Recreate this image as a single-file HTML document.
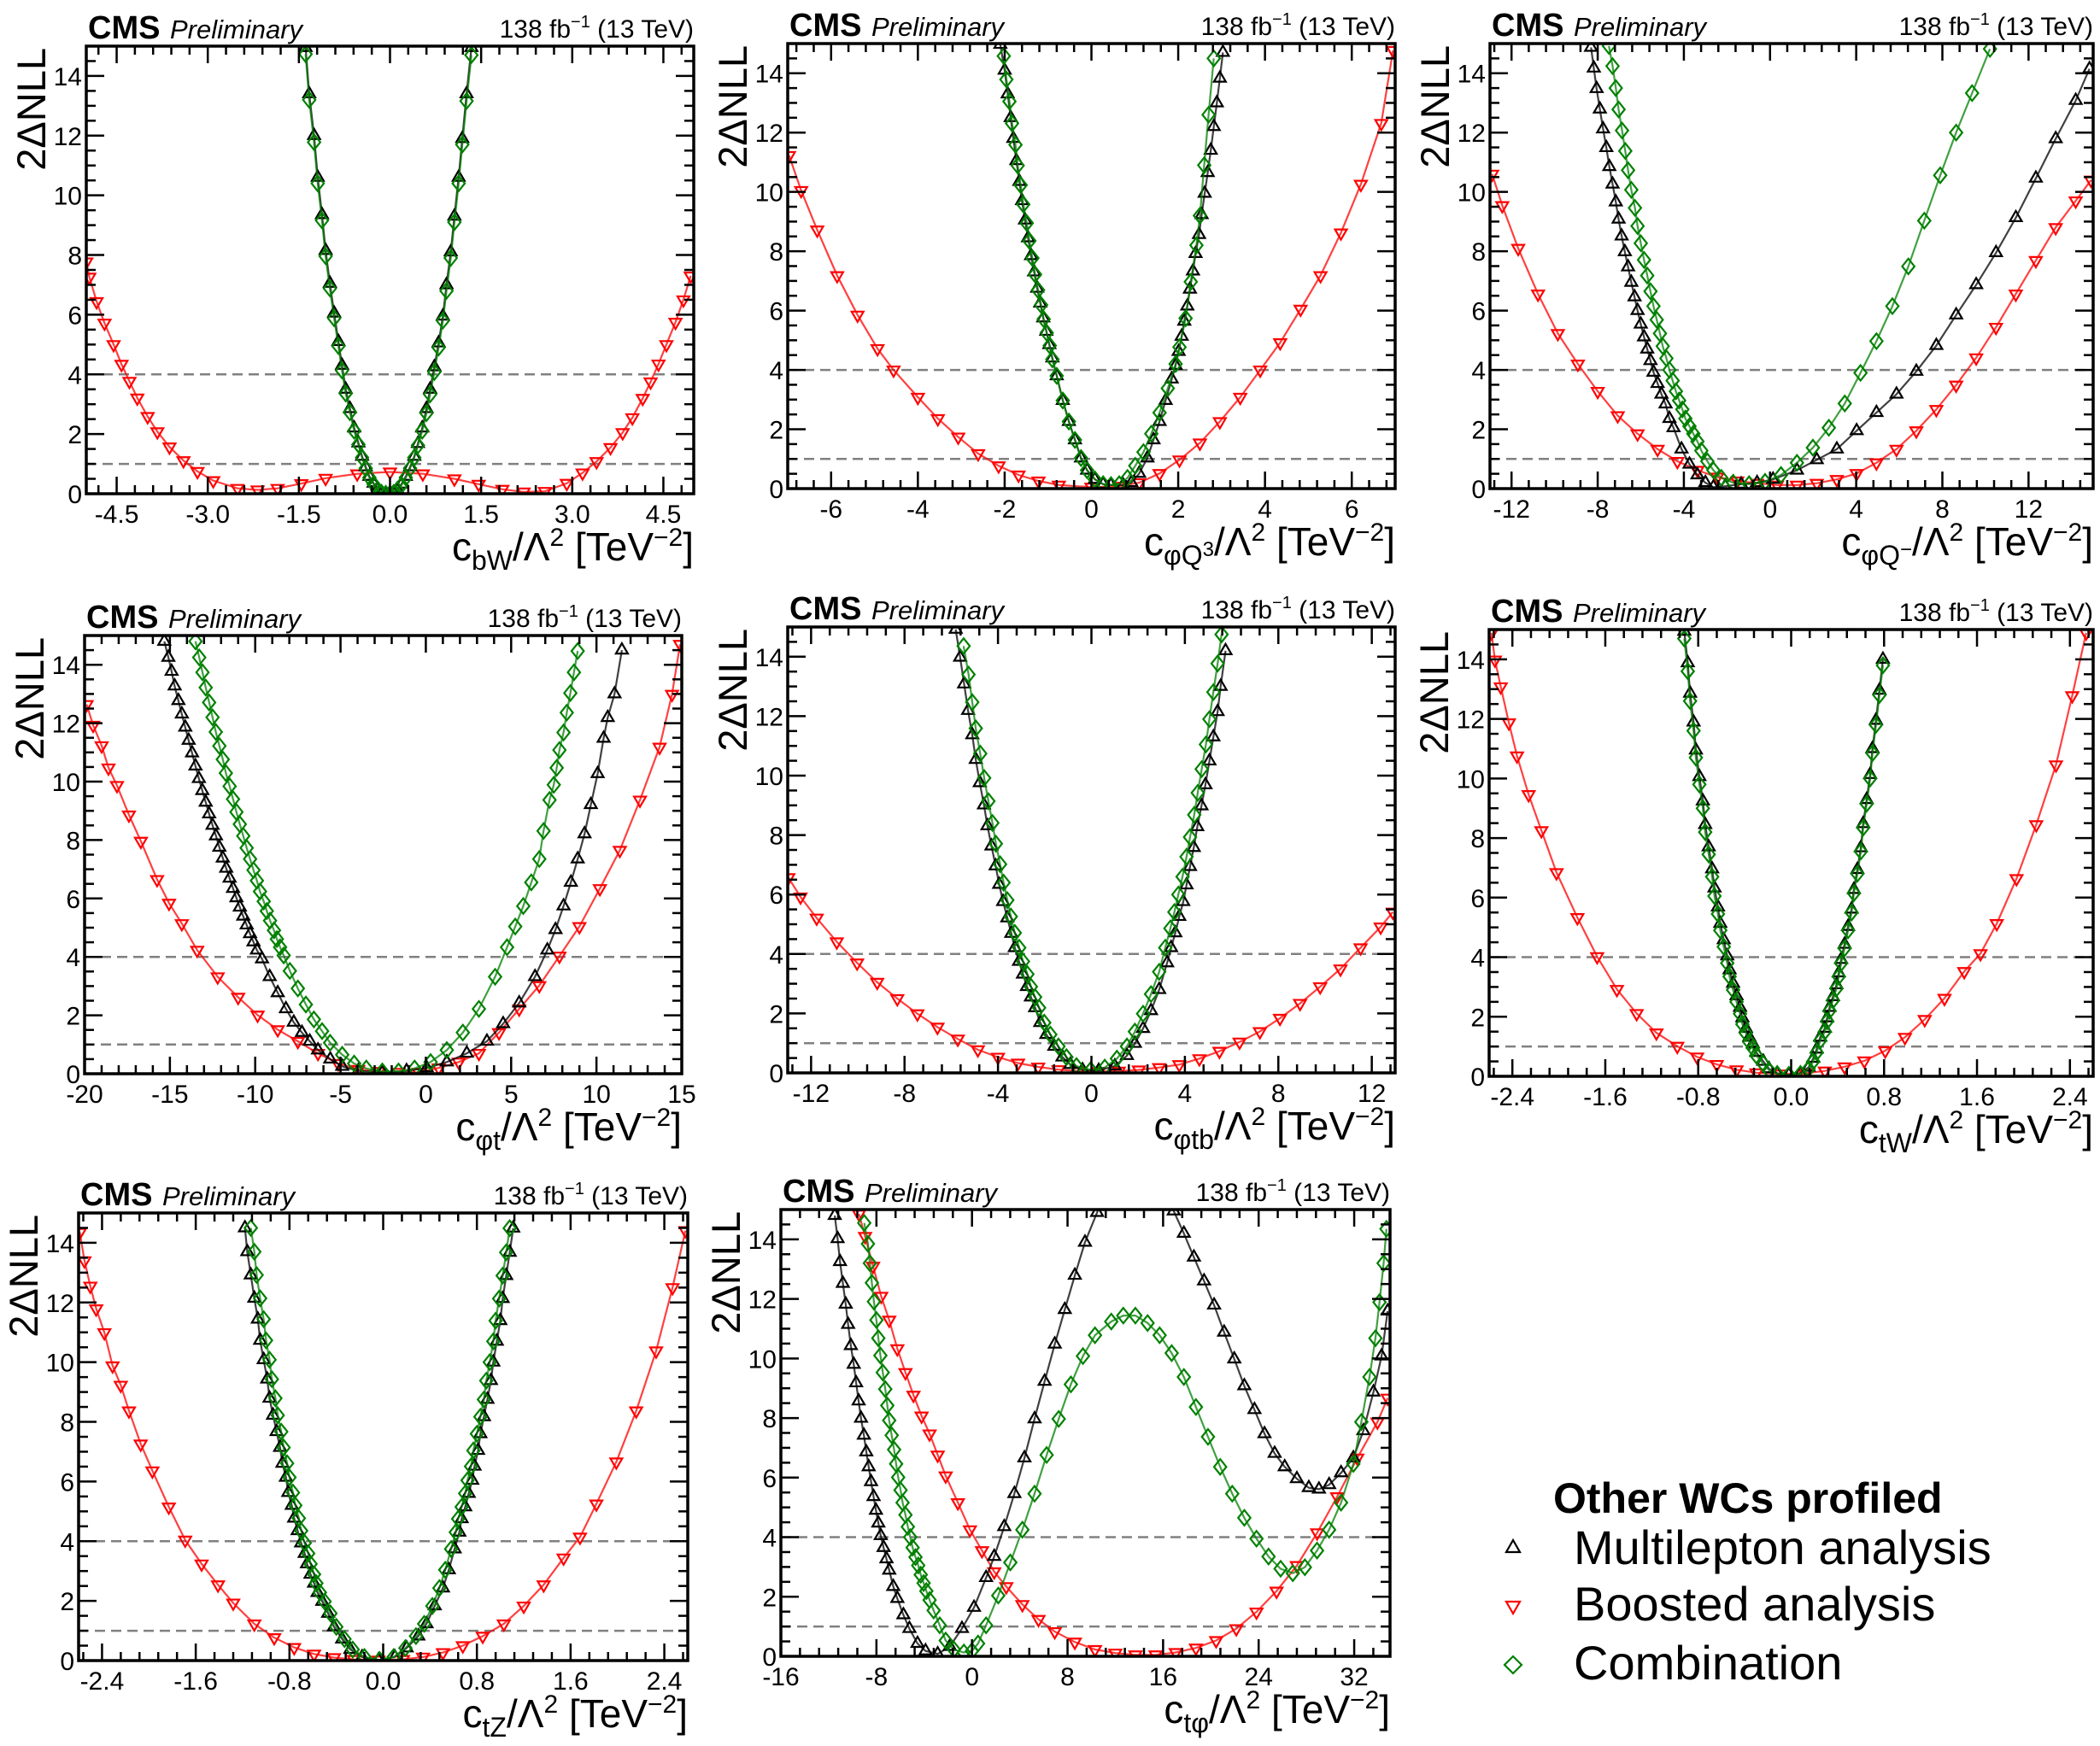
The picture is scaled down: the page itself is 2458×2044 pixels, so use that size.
<!DOCTYPE html>
<html><head><meta charset="utf-8"><title>CMS 2ΔNLL scans</title>
<style>
html,body{margin:0;padding:0;background:#fff;}
svg{display:block;font-family:"Liberation Sans",Arial,sans-serif;}
</style></head>
<body>
<svg id="chart" xmlns="http://www.w3.org/2000/svg" width="2458" height="2044" viewBox="0 0 2458 2044">
<rect x="0" y="0" width="2458" height="2044" fill="#fff"/>
<g>
<text x="1818" y="1771" font-size="50" font-weight="bold">Other WCs profiled</text>
<g>
<polygon points="1771,1803 1763,1817 1779,1817" fill="none" stroke="#000" stroke-width="2.2"/>
<text x="1842" y="1831" font-size="56">Multilepton analysis</text></g>
<g>
<polygon points="1771,1889 1763,1875 1779,1875" fill="none" stroke="#ff0000" stroke-width="2.2"/>
<text x="1842" y="1897" font-size="56">Boosted analysis</text></g>
<g>
<polygon points="1771,1939 1781,1949 1771,1959 1761,1949" fill="none" stroke="#008000" stroke-width="2.2"/>
<text x="1842" y="1966" font-size="56">Combination</text></g>
</g>
</svg>
<script>
// ---------- data ----------
const yTickVals=[0,2,4,6,8,10,12,14];
const yTickLabels=["0","2","4","6","8","10","12","14"];
const refLevels=[1,4];

// Panel 1: cbW
const p1_tickvals=[-4.5,-3,-1.5,0,1.5,3,4.5];
const p1_ticklabels=["-4.5","-3.0","-1.5","0.0","1.5","3.0","4.5"];
const p1_boost_x=[-5.0,-4.95,-4.83,-4.7,-4.55,-4.42,-4.29,-4.16,-3.99,-3.83,-3.63,-3.4,-3.17,-2.91,-2.51,-2.18,-1.85,-1.46,-1.06,-0.54,0,0.54,1.06,1.46,1.85,2.2,2.55,2.91,3.17,3.4,3.63,3.83,3.99,4.16,4.29,4.42,4.55,4.7,4.83,4.95];
const p1_boost_y=[7.77,7.26,6.44,5.72,5.0,4.34,3.77,3.21,2.59,2.08,1.57,1.11,0.75,0.44,0.18,0.13,0.18,0.34,0.52,0.67,0.73,0.67,0.5,0.32,0.15,0.06,0.08,0.35,0.7,1.08,1.55,2.05,2.55,3.2,3.75,4.35,5.0,5.75,6.5,7.3];
const p1_multi_x=[-1.39,-1.33,-1.25,-1.19,-1.12,-1.06,-0.99,-0.92,-0.85,-0.79,-0.73,-0.66,-0.59,-0.52,-0.46,-0.40,-0.34,-0.27,-0.21,-0.14,-0.07,0.0,0.06,0.12,0.19,0.26,0.33,0.40,0.46,0.53,0.60,0.66,0.73,0.80,0.87,0.93,1.0,1.06,1.13,1.19,1.26,1.34];
const p1_multi_y=[14.95,13.4,12.0,10.6,9.35,8.15,7.05,6.05,5.1,4.3,3.5,2.85,2.2,1.7,1.25,0.9,0.58,0.35,0.15,0.04,0.0,0.0,0.04,0.15,0.32,0.58,0.9,1.25,1.68,2.2,2.85,3.5,4.25,5.05,5.95,7.0,8.1,9.3,10.6,11.9,13.4,14.95];
const p1_comb_x=[-1.39,-1.33,-1.25,-1.19,-1.12,-1.06,-0.99,-0.92,-0.85,-0.79,-0.73,-0.66,-0.59,-0.52,-0.46,-0.40,-0.34,-0.27,-0.21,-0.14,-0.07,0.0,0.06,0.12,0.19,0.26,0.33,0.40,0.46,0.53,0.60,0.66,0.73,0.80,0.87,0.93,1.0,1.06,1.13,1.19,1.26,1.34];
const p1_comb_y=[14.73,13.2,11.78,10.4,9.16,7.96,6.88,5.88,4.95,4.13,3.36,2.73,2.11,1.65,1.21,0.85,0.54,0.32,0.13,0.03,0.0,0.0,0.03,0.13,0.29,0.54,0.85,1.21,1.62,2.11,2.7,3.33,4.08,4.9,5.8,6.8,7.9,9.1,10.4,11.7,13.16,14.7];

// Panel 2: cphiQ3
const p2_tickvals=[-6,-4,-2,0,2,4,6];
const p2_ticklabels=["-6","-4","-2","0","2","4","6"];
const p2_boost_x=[-6.97,-6.69,-6.32,-5.86,-5.39,-4.93,-4.56,-4.0,-3.54,-3.07,-2.61,-2.14,-1.68,-1.22,-0.75,0,0.64,1.1,1.57,2.03,2.5,2.96,3.43,3.89,4.35,4.82,5.28,5.75,6.21,6.68,6.95];
const p2_boost_y=[11.23,10.05,8.72,7.18,5.85,4.72,4.0,3.08,2.36,1.74,1.18,0.77,0.46,0.26,0.12,0.05,0.08,0.2,0.51,0.97,1.54,2.26,3.08,4.0,4.92,6.05,7.18,8.62,10.26,12.31,14.77];
const p2_multi_x=[-2.1,-2.0,-1.93,-1.86,-1.8,-1.73,-1.66,-1.6,-1.53,-1.46,-1.39,-1.32,-1.25,-1.18,-1.11,-1.04,-0.97,-0.9,-0.8,-0.66,-0.52,-0.38,-0.24,-0.1,0.08,0.27,0.45,0.73,0.92,1.1,1.29,1.43,1.57,1.71,1.85,1.94,2.01,2.08,2.14,2.21,2.27,2.34,2.4,2.48,2.54,2.61,2.68,2.75,2.82,2.89,2.96,3.03];
const p2_multi_y=[14.97,14.1,13.3,12.5,11.8,11.05,10.35,9.7,9.05,8.45,7.85,7.3,6.75,6.25,5.75,5.3,4.85,4.4,3.8,2.97,2.26,1.64,1.03,0.62,0.31,0.15,0.12,0.12,0.2,0.51,1.03,1.64,2.26,2.97,3.69,4.15,4.62,5.13,5.64,6.15,6.72,7.33,7.92,8.56,9.23,9.95,10.65,11.4,12.2,13.0,13.83,14.7];
const p2_comb_x=[-2.02,-1.96,-1.89,-1.83,-1.75,-1.7,-1.63,-1.57,-1.49,-1.43,-1.36,-1.3,-1.23,-1.16,-1.1,-1.03,-0.96,-0.9,-0.8,-0.66,-0.52,-0.38,-0.24,-0.1,0.08,0.27,0.45,0.64,0.83,1.01,1.2,1.38,1.57,1.76,1.94,2.03,2.17,2.29,2.42,2.5,2.6,2.7,2.82];
const p2_comb_y=[14.58,13.79,13.05,12.31,11.59,10.89,10.23,9.58,8.95,8.35,7.77,7.22,6.69,6.19,5.71,5.25,4.82,4.36,3.8,2.97,2.26,1.64,1.03,0.62,0.31,0.15,0.12,0.15,0.36,0.77,1.23,1.85,2.56,3.38,4.2,4.77,5.74,6.97,8.2,9.2,10.9,12.6,14.5];

// Panel 3: cphiQ-
const p3_tickvals=[-12,-8,-4,0,4,8,12];
const p3_ticklabels=["-12","-8","-4","0","4","8","12"];
const p3_boost_x=[-12.9,-12.43,-11.69,-10.77,-9.85,-8.92,-8.0,-7.07,-6.15,-5.22,-4.3,-3.37,-2.45,-1.52,-0.6,0.32,1.25,2.17,3.1,4.02,4.94,5.87,6.79,7.72,8.64,9.57,10.49,11.41,12.34,13.26,14.19,14.9];
const p3_boost_y=[10.6,9.54,8.1,6.56,5.23,4.2,3.28,2.46,1.85,1.33,0.92,0.62,0.39,0.26,0.18,0.12,0.12,0.18,0.31,0.51,0.87,1.33,1.95,2.67,3.49,4.41,5.44,6.56,7.69,8.8,9.7,10.4];
const p3_multi_x=[-8.31,-8.18,-8.05,-7.9,-7.75,-7.6,-7.46,-7.31,-7.16,-7.03,-6.89,-6.74,-6.59,-6.44,-6.29,-6.15,-6.0,-5.85,-5.7,-5.55,-5.41,-5.22,-5.04,-4.85,-4.67,-4.48,-4.11,-3.74,-3.37,-3.0,-2.63,-2.08,-1.34,-0.6,0.14,1.25,2.17,3.1,4.02,4.94,5.87,6.79,7.72,8.64,9.57,10.49,11.41,12.34,13.26,14.19,14.83];
const p3_multi_y=[14.87,14.17,13.48,12.79,12.12,11.49,10.85,10.26,9.66,9.08,8.51,7.98,7.47,6.95,6.46,6.0,5.54,5.11,4.7,4.31,3.92,3.54,3.18,2.85,2.36,2.05,1.33,0.82,0.46,0.2,0.05,0.08,0.15,0.2,0.31,0.62,0.97,1.33,1.95,2.56,3.18,3.95,4.82,5.85,6.87,7.95,9.13,10.46,11.79,13.08,14.15];
const p3_comb_x=[-7.48,-7.31,-7.16,-7.03,-6.87,-6.72,-6.59,-6.44,-6.27,-6.15,-6.0,-5.85,-5.7,-5.55,-5.41,-5.26,-5.11,-4.98,-4.81,-4.67,-4.52,-4.37,-4.22,-4.07,-3.93,-3.74,-3.56,-3.37,-3.19,-2.91,-2.63,-2.26,-1.71,-0.97,-0.23,0.51,1.25,1.99,2.73,3.47,4.2,4.94,5.68,6.42,7.16,7.9,8.64,9.38,10.21];
const p3_comb_y=[14.92,14.24,13.5,12.78,12.07,11.38,10.73,10.07,9.46,8.85,8.27,7.71,7.18,6.65,6.15,5.69,5.23,4.8,4.39,4.0,3.64,3.28,2.97,2.67,2.36,2.1,1.85,1.59,1.28,0.92,0.62,0.36,0.2,0.15,0.23,0.46,0.87,1.38,2.05,2.87,3.9,4.97,6.15,7.49,9.03,10.56,12.0,13.33,14.82];

// Panel 4: cphit
const p4_tickvals=[-20,-15,-10,-5,0,5,10,15];
const p4_ticklabels=["-20","-15","-10","-5","0","5","10","15"];
const p4_boost_x=[-19.88,-19.5,-19.0,-18.6,-18.1,-17.4,-16.7,-15.75,-15.05,-14.3,-13.4,-12.2,-11.0,-9.86,-8.68,-7.5,-6.32,-5.14,-3.96,-2.78,-1.6,-0.42,0.75,1.93,3.11,4.29,5.47,6.65,7.83,9.0,10.2,11.37,12.55,13.7,14.43,14.9];
const p4_boost_y=[12.64,11.93,11.23,10.47,9.87,8.86,7.96,6.65,5.84,5.14,4.23,3.32,2.62,2.01,1.51,1.11,0.7,0.35,0.15,0.08,0.05,0.05,0.2,0.4,0.7,1.41,2.22,3.02,4.03,5.04,6.34,7.65,9.37,11.18,12.99,14.7];
const p4_multi_x=[-15.33,-15.09,-14.9,-14.72,-14.5,-14.3,-14.1,-13.9,-13.7,-13.5,-13.3,-13.1,-12.9,-12.7,-12.5,-12.3,-12.1,-11.9,-11.7,-11.5,-11.3,-11.1,-10.9,-10.7,-10.5,-10.3,-10.1,-9.9,-9.6,-9.15,-8.68,-8.2,-7.74,-7.26,-6.8,-6.32,-5.6,-4.9,-3.96,-2.55,-1.13,0.05,1.23,2.4,3.58,4.53,5.47,6.4,7.12,7.6,8.07,8.5,8.9,9.3,9.67,10.07,10.42,10.66,11.06,11.49];
const p4_multi_y=[14.8,14.25,13.77,13.27,12.77,12.31,11.86,11.41,10.98,10.53,10.1,9.69,9.29,8.89,8.5,8.14,7.75,7.38,7.03,6.69,6.34,6.02,5.7,5.39,5.09,4.79,4.51,4.23,3.93,3.32,2.77,2.22,1.76,1.41,1.11,0.81,0.5,0.25,0.1,0.05,0.1,0.2,0.4,0.7,1.11,1.71,2.42,3.32,4.23,4.93,5.74,6.55,7.35,8.21,9.21,10.27,11.48,12.19,13.0,14.5];
const p4_comb_x=[-13.5,-13.28,-13.09,-12.9,-12.7,-12.5,-12.31,-12.1,-11.9,-11.72,-11.5,-11.3,-11.1,-10.9,-10.7,-10.5,-10.3,-10.1,-9.9,-9.72,-9.5,-9.32,-9.13,-8.9,-8.73,-8.54,-8.33,-7.97,-7.5,-7.03,-6.56,-6.08,-5.61,-4.9,-4.2,-3.49,-2.55,-1.6,-0.66,0.28,1.23,2.17,3.11,4.06,4.76,5.24,5.71,6.18,6.65,6.9,7.25,7.5,7.67,7.83,8.07,8.26,8.47,8.68,8.9];
const p4_comb_y=[14.8,14.25,13.74,13.22,12.71,12.2,11.7,11.22,10.76,10.29,9.84,9.4,8.96,8.54,8.14,7.73,7.35,6.97,6.61,6.24,5.9,5.57,5.24,4.91,4.61,4.33,4.05,3.52,2.92,2.37,1.86,1.46,1.06,0.65,0.35,0.18,0.08,0.08,0.18,0.4,0.81,1.41,2.22,3.32,4.33,5.04,5.74,6.55,7.35,8.31,9.37,9.89,10.47,11.08,11.68,12.36,13.03,13.74,14.47];

// Panel 5: cphitb
const p5_tickvals=[-12,-8,-4,0,4,8,12];
const p5_ticklabels=["-12","-8","-4","0","4","8","12"];
const p5_boost_x=[-12.97,-12.45,-11.76,-10.9,-10.03,-9.17,-8.31,-7.45,-6.59,-5.72,-4.86,-4.0,-3.14,-2.28,-1.41,-0.55,0.31,1.17,2.03,2.9,3.76,4.62,5.48,6.34,7.21,8.07,8.93,9.79,10.66,11.52,12.38,12.9];
const p5_boost_y=[6.57,5.92,5.21,4.41,3.7,3.05,2.5,1.99,1.54,1.14,0.78,0.53,0.33,0.2,0.11,0.06,0.05,0.06,0.1,0.18,0.28,0.48,0.73,1.04,1.39,1.84,2.34,2.9,3.5,4.21,4.91,5.41];
const p5_multi_x=[-5.81,-5.62,-5.45,-5.28,-5.1,-4.95,-4.78,-4.6,-4.45,-4.28,-4.1,-3.95,-3.78,-3.6,-3.43,-3.28,-3.1,-2.93,-2.76,-2.59,-2.41,-2.19,-1.93,-1.59,-1.24,-0.9,-0.38,0.31,1.0,1.52,1.86,2.21,2.55,2.9,3.24,3.41,3.59,3.76,3.93,4.07,4.22,4.38,4.53,4.71,4.88,5.05,5.22,5.4,5.53,5.74];
const p5_multi_y=[14.92,13.98,13.08,12.19,11.37,10.54,9.76,9.01,8.31,7.63,6.96,6.34,5.76,5.21,4.69,4.21,3.75,3.32,2.9,2.55,2.19,1.69,1.29,0.89,0.53,0.28,0.1,0.08,0.23,0.58,0.99,1.49,2.09,2.8,3.7,4.21,4.71,5.26,5.76,6.32,6.94,7.58,8.28,8.98,9.69,10.49,11.3,12.15,13.0,14.2];
const p5_comb_x=[-5.47,-5.26,-5.1,-4.95,-4.76,-4.59,-4.41,-4.24,-4.09,-3.91,-3.76,-3.6,-3.45,-3.28,-3.09,-2.93,-2.74,-2.59,-2.41,-2.24,-2.02,-1.76,-1.41,-1.07,-0.64,-0.03,0.57,1.09,1.52,1.86,2.21,2.55,2.9,3.16,3.38,3.55,3.72,3.9,4.07,4.22,4.4,4.55,4.72,4.9,5.05,5.22,5.4,5.57];
const p5_comb_y=[14.36,13.4,12.47,11.59,10.74,9.92,9.14,8.41,7.71,7.02,6.4,5.81,5.26,4.71,4.21,3.75,3.32,2.9,2.55,2.19,1.69,1.29,0.89,0.53,0.23,0.1,0.18,0.48,0.89,1.39,1.99,2.65,3.4,4.21,4.86,5.41,6.0,6.6,7.27,7.93,8.68,9.42,10.22,11.05,11.9,12.81,13.77,14.75];

// Panel 6: ctW
const p6_tickvals=[-2.4,-1.6,-0.8,0,0.8,1.6,2.4];
const p6_ticklabels=["-2.4","-1.6","-0.8","0.0","0.8","1.6","2.4"];
const p6_boost_x=[-2.58,-2.55,-2.5,-2.43,-2.36,-2.26,-2.15,-2.02,-1.84,-1.67,-1.5,-1.33,-1.16,-0.98,-0.81,-0.64,-0.47,-0.3,-0.09,0.12,0.29,0.46,0.63,0.81,0.98,1.15,1.32,1.49,1.63,1.77,1.94,2.11,2.28,2.42,2.54];
const p6_boost_y=[14.89,13.98,13.08,11.87,10.76,9.46,8.25,6.84,5.33,4.02,2.92,2.11,1.46,1.01,0.65,0.4,0.22,0.12,0.08,0.1,0.18,0.32,0.52,0.86,1.31,1.91,2.62,3.52,4.12,5.13,6.64,8.45,10.46,12.78,14.89];
const p6_multi_x=[-0.92,-0.89,-0.87,-0.84,-0.82,-0.79,-0.76,-0.74,-0.71,-0.68,-0.66,-0.63,-0.61,-0.58,-0.55,-0.53,-0.5,-0.47,-0.44,-0.42,-0.39,-0.36,-0.33,-0.3,-0.24,-0.19,-0.12,-0.02,0.08,0.15,0.19,0.22,0.25,0.29,0.31,0.33,0.36,0.39,0.41,0.43,0.46,0.49,0.52,0.54,0.57,0.6,0.62,0.65,0.68,0.7,0.73,0.76,0.79];
const p6_multi_y=[14.94,13.88,12.86,11.89,10.95,10.06,9.24,8.45,7.7,6.96,6.32,5.68,5.13,4.58,4.04,3.57,3.12,2.7,2.31,1.96,1.61,1.31,1.09,0.8,0.5,0.25,0.1,0.05,0.1,0.3,0.6,0.91,1.31,1.61,1.96,2.31,2.67,3.07,3.47,3.92,4.43,5.03,5.61,6.27,6.94,7.67,8.48,9.29,10.13,11.0,11.95,12.96,14.0];
const p6_comb_x=[-0.92,-0.89,-0.87,-0.84,-0.82,-0.79,-0.76,-0.74,-0.71,-0.68,-0.66,-0.63,-0.61,-0.58,-0.55,-0.53,-0.5,-0.47,-0.44,-0.42,-0.39,-0.36,-0.33,-0.3,-0.24,-0.19,-0.12,-0.02,0.08,0.15,0.19,0.22,0.25,0.29,0.31,0.33,0.36,0.39,0.41,0.43,0.46,0.49,0.52,0.54,0.57,0.6,0.62,0.65,0.68,0.7,0.73,0.76,0.79];
const p6_comb_y=[14.7,13.6,12.6,11.6,10.7,9.8,9.0,8.2,7.45,6.7,6.05,5.45,4.9,4.35,3.8,3.35,2.9,2.5,2.1,1.75,1.45,1.15,0.95,0.7,0.42,0.2,0.08,0.05,0.08,0.25,0.5,0.8,1.2,1.5,1.85,2.2,2.55,2.95,3.35,3.8,4.3,4.9,5.5,6.15,6.8,7.55,8.35,9.15,10.0,10.85,11.8,12.8,13.8];

// Panel 7: ctZ
const p7_tickvals=[-2.4,-1.6,-0.8,0,0.8,1.6,2.4];
const p7_ticklabels=["-2.4","-1.6","-0.8","0.0","0.8","1.6","2.4"];
const p7_boost_x=[-2.59,-2.55,-2.5,-2.45,-2.38,-2.31,-2.24,-2.17,-2.07,-1.97,-1.83,-1.69,-1.55,-1.41,-1.28,-1.1,-0.93,-0.76,-0.59,-0.42,-0.25,-0.04,0.17,0.34,0.51,0.68,0.85,1.03,1.2,1.37,1.54,1.68,1.82,1.99,2.16,2.33,2.47,2.58];
const p7_boost_y=[14.35,13.4,12.55,11.79,10.99,9.88,9.23,8.37,7.26,6.36,5.15,4.04,3.24,2.54,1.93,1.23,0.77,0.44,0.22,0.1,0.04,0.02,0.04,0.12,0.27,0.5,0.82,1.23,1.83,2.54,3.44,4.14,5.25,6.66,8.37,10.38,12.5,14.41];
const p7_multi_x=[-1.18,-1.16,-1.13,-1.1,-1.07,-1.05,-1.02,-0.99,-0.97,-0.94,-0.91,-0.88,-0.86,-0.83,-0.81,-0.78,-0.76,-0.73,-0.7,-0.67,-0.65,-0.62,-0.59,-0.56,-0.52,-0.47,-0.42,-0.35,-0.28,-0.18,-0.04,0.1,0.2,0.3,0.37,0.44,0.51,0.56,0.61,0.65,0.67,0.7,0.73,0.76,0.78,0.81,0.83,0.86,0.89,0.92,0.94,0.97,1.0,1.02,1.05,1.08,1.11];
const p7_multi_y=[14.5,13.7,12.92,12.14,11.44,10.73,10.08,9.43,8.79,8.22,7.67,7.14,6.61,6.14,5.63,5.2,4.77,4.35,3.94,3.59,3.24,2.89,2.59,2.28,1.98,1.58,1.13,0.72,0.37,0.12,0.02,0.12,0.42,0.82,1.23,1.83,2.43,3.04,3.74,4.3,4.75,5.15,5.6,6.04,6.51,7.04,7.6,8.17,8.75,9.38,10.0,10.7,11.39,12.13,12.9,13.68,14.49];
const p7_comb_x=[-1.13,-1.1,-1.08,-1.05,-1.02,-1.0,-0.97,-0.95,-0.92,-0.9,-0.87,-0.85,-0.82,-0.8,-0.77,-0.75,-0.72,-0.7,-0.67,-0.64,-0.62,-0.59,-0.57,-0.54,-0.5,-0.45,-0.4,-0.33,-0.26,-0.16,-0.03,0.09,0.19,0.28,0.35,0.42,0.48,0.53,0.58,0.62,0.64,0.67,0.7,0.72,0.75,0.77,0.8,0.83,0.86,0.88,0.91,0.94,0.96,0.99,1.02,1.05,1.08];
const p7_comb_y=[14.5,13.7,12.92,12.14,11.44,10.73,10.08,9.43,8.79,8.22,7.67,7.14,6.61,6.14,5.63,5.2,4.77,4.35,3.94,3.59,3.24,2.89,2.59,2.28,1.98,1.58,1.13,0.72,0.37,0.12,0.02,0.12,0.42,0.82,1.23,1.83,2.43,3.04,3.74,4.3,4.75,5.15,5.6,6.04,6.51,7.04,7.6,8.17,8.75,9.38,10.0,10.7,11.39,12.13,12.9,13.68,14.49];

// Panel 8: ctphi
const p8_tickvals=[-16,-8,0,8,16,24,32];
const p8_ticklabels=["-16","-8","0","8","16","24","32"];
const p8_boost_x=[-9.46,-8.95,-8.28,-7.6,-6.93,-6.25,-5.57,-4.9,-4.22,-3.55,-2.87,-2.2,-1.18,-0.17,0.84,1.86,2.87,4.22,5.57,6.93,8.61,10.3,12.0,13.68,15.37,17.06,18.75,20.44,22.13,23.82,25.5,27.2,28.9,30.57,32.26,33.95,34.8];
const p8_boost_y=[14.85,14.1,13.1,12.09,11.29,10.33,9.53,8.77,8.07,7.47,6.76,6.06,5.16,4.25,3.55,2.84,2.34,1.74,1.24,0.83,0.48,0.23,0.11,0.05,0.05,0.13,0.28,0.53,0.93,1.49,2.19,3.05,4.15,5.36,6.66,7.87,8.67];
const p8_multi_x=[-11.49,-11.25,-11.05,-10.81,-10.57,-10.37,-10.14,-9.9,-9.7,-9.49,-9.29,-9.05,-8.85,-8.65,-8.45,-8.24,-8.04,-7.84,-7.64,-7.4,-7.16,-6.93,-6.59,-6.25,-5.74,-5.24,-4.56,-3.89,-2.87,-1.86,-0.84,0.17,1.18,1.86,2.7,3.55,4.39,5.24,6.08,6.93,7.77,8.61,9.46,10.47,11.2,16.2,16.89,17.74,18.58,19.43,20.27,21.11,21.96,22.8,23.65,24.49,25.34,26.18,27.2,28.2,29.05,29.9,30.9,31.93,32.77,33.61,34.29,34.8];
const p8_multi_y=[14.8,14.02,13.25,12.52,11.82,11.14,10.43,9.8,9.18,8.57,7.99,7.42,6.86,6.36,5.86,5.36,4.9,4.47,4.05,3.65,3.27,2.89,2.34,1.94,1.39,0.93,0.43,0.18,0.08,0.33,0.93,1.64,2.64,3.35,4.35,5.46,6.66,7.97,9.23,10.48,11.64,12.79,13.9,14.9,15.7,15.7,14.95,14.2,13.4,12.6,11.79,10.88,9.98,9.08,8.28,7.47,6.81,6.36,5.96,5.66,5.61,5.76,6.16,6.66,7.57,8.87,10.08,11.59];
const p8_comb_x=[-9.02,-8.71,-8.55,-8.38,-8.21,-8.0,-7.84,-7.67,-7.47,-7.26,-7.09,-6.93,-6.72,-6.52,-6.35,-6.18,-5.98,-5.81,-5.57,-5.37,-5.17,-4.97,-4.73,-4.5,-4.29,-4.05,-3.82,-3.55,-3.21,-2.7,-2.2,-1.52,-0.68,0,0.51,1.18,2.2,3.21,4.22,5.24,6.25,7.26,8.28,9.29,10.3,11.66,12.67,13.68,14.7,15.71,16.72,17.74,18.75,19.76,20.78,21.79,22.8,23.82,24.83,25.84,26.86,27.87,28.89,29.9,30.9,31.93,32.6,33.28,33.78,34.12,34.46,34.7];
const p8_comb_y=[14.55,13.85,13.2,12.54,11.91,11.29,10.68,10.1,9.53,8.97,8.42,7.92,7.42,6.94,6.46,6.01,5.58,5.16,4.75,4.35,4.0,3.65,3.33,3.05,2.74,2.46,2.19,1.89,1.54,1.04,0.53,0.23,0.13,0.18,0.43,1.04,2.04,3.15,4.25,5.46,6.76,7.97,9.13,10.08,10.78,11.24,11.44,11.44,11.19,10.78,10.18,9.38,8.37,7.37,6.36,5.46,4.65,3.95,3.35,2.94,2.79,2.99,3.55,4.25,5.16,6.46,7.87,9.38,10.68,11.89,13.2,14.35];

// ---------- layout ----------
const panels=[
 {key:'cbw',box:[101,54,812,578],xr:[-5,5],major:1.5,minor:0.3,tv:p1_tickvals,tl:p1_ticklabels,boost:[p1_boost_x,p1_boost_y],multi:[p1_multi_x,p1_multi_y],comb:[p1_comb_x,p1_comb_y],sub:'bW',sup:''},
 {key:'cphiq3',box:[922,51,1633,572],xr:[-7,7],major:2,minor:0.4,tv:p2_tickvals,tl:p2_ticklabels,boost:[p2_boost_x,p2_boost_y],multi:[p2_multi_x,p2_multi_y],comb:[p2_comb_x,p2_comb_y],sub:'φQ',sup:'3'},
 {key:'cphiqm',box:[1744,51,2450,572],xr:[-13,15],major:4,minor:0.8,tv:p3_tickvals,tl:p3_ticklabels,boost:[p3_boost_x,p3_boost_y],multi:[p3_multi_x,p3_multi_y],comb:[p3_comb_x,p3_comb_y],sub:'φQ',sup:'−'},
 {key:'cphit',box:[99,744,798,1257],xr:[-20,15],major:5,minor:1,tv:p4_tickvals,tl:p4_ticklabels,boost:[p4_boost_x,p4_boost_y],multi:[p4_multi_x,p4_multi_y],comb:[p4_comb_x,p4_comb_y],sub:'φt',sup:''},
 {key:'cphitb',box:[922,734,1633,1256],xr:[-13,13],major:4,minor:0.8,tv:p5_tickvals,tl:p5_ticklabels,boost:[p5_boost_x,p5_boost_y],multi:[p5_multi_x,p5_multi_y],comb:[p5_comb_x,p5_comb_y],sub:'φtb',sup:''},
 {key:'ctw',box:[1743,737,2450,1260],xr:[-2.6,2.6],major:0.8,minor:0.16,tv:p6_tickvals,tl:p6_ticklabels,boost:[p6_boost_x,p6_boost_y],multi:[p6_multi_x,p6_multi_y],comb:[p6_comb_x,p6_comb_y],sub:'tW',sup:''},
 {key:'ctz',box:[92,1420,805,1944],xr:[-2.6,2.6],major:0.8,minor:0.16,tv:p7_tickvals,tl:p7_ticklabels,boost:[p7_boost_x,p7_boost_y],multi:[p7_multi_x,p7_multi_y],comb:[p7_comb_x,p7_comb_y],sub:'tZ',sup:''},
 {key:'ctphi',box:[914,1416,1627,1939],xr:[-16,35],major:8,minor:1.6,tv:p8_tickvals,tl:p8_ticklabels,boost:[p8_boost_x,p8_boost_y],multi:[p8_multi_x,p8_multi_y],comb:[p8_comb_x,p8_comb_y],sub:'tφ',sup:''}
];

const NS='http://www.w3.org/2000/svg';
const svg=document.getElementById('chart');
function mk(tag,attrs,parent){const e=document.createElementNS(NS,tag);for(const k in attrs)e.setAttribute(k,attrs[k]);parent.appendChild(e);return e;}
function isMajor(v,major){const r=v/major;return Math.abs(r-Math.round(r))<1e-3;}

panels.forEach((p,pi)=>{
  const [x0,y0,x1,y1]=p.box;
  const sx=v=>x0+(v-p.xr[0])/(p.xr[1]-p.xr[0])*(x1-x0);
  const sy=v=>y1-(v/15)*(y1-y0);
  const g=mk('g',{},svg);
  
  

  const clip=mk('clipPath',{id:'clip'+pi},g);
  mk('rect',{x:x0,y:y0,width:x1-x0,height:y1-y0},clip);

  refLevels.forEach(lv=>{
    const l=mk('line',{x1:x0,x2:x1,y1:sy(lv),y2:sy(lv),stroke:'#808080','stroke-width':2.5,'stroke-dasharray':'12 7'},g);
    
    
  });

  const defs=[['boost','#ff0000','down'],['multi','#000000','up'],['comb','#008000','diamond']];
  defs.forEach(([name,col,shape])=>{
    const [xs,ys]=p[name];
    const sg=mk('g',{'clip-path':'url(#clip'+pi+')'},g);
    
    
    const pts=xs.map((x,i)=>sx(x).toFixed(1)+','+sy(ys[i]).toFixed(1)).join(' ');
    const pl=mk('polyline',{points:pts,fill:'none',stroke:col,'stroke-width':2.2,'stroke-opacity':0.75},sg);
    
    
    xs.forEach((x,i)=>{
      if(ys[i]>15.2) return;
      const cx=sx(x),cy=sy(ys[i]);let d;
      if(shape==='up'){const s=8;d=`${cx},${cy-s} ${cx-s*0.87},${cy+s*0.5} ${cx+s*0.87},${cy+s*0.5}`;}
      else if(shape==='down'){const s=8;d=`${cx},${cy+s} ${cx-s*0.87},${cy-s*0.5} ${cx+s*0.87},${cy-s*0.5}`;}
      else {const s=9;d=`${cx},${cy-s} ${cx+s*0.8},${cy} ${cx},${cy+s} ${cx-s*0.8},${cy}`;}
      const m=mk('polygon',{points:d,fill:'none',stroke:col,'stroke-width':2.2},sg);
      
      
    });
  });

  const tg=mk('g',{stroke:'#000','stroke-width':2.5},g);
  
  
  const kmin=Math.ceil(p.xr[0]/p.minor-1e-6),kmax=Math.floor(p.xr[1]/p.minor+1e-6);
  for(let k=kmin;k<=kmax;k++){
    const v=k*p.minor;const L=isMajor(v,p.major)?20:10;const X=sx(v);
    mk('line',{x1:X,x2:X,y1:y1,y2:y1-L},tg);
    mk('line',{x1:X,x2:X,y1:y0,y2:y0+L},tg);
  }
  for(let v=0;v<=15.001;v+=0.5){
    const L=isMajor(v,2)?21:11;const Y=sy(v);
    mk('line',{x1:x0,x2:x0+L,y1:Y,y2:Y},tg);
    mk('line',{x1:x1,x2:x1-L,y1:Y,y2:Y},tg);
  }
  const fr=mk('rect',{x:x0,y:y0,width:x1-x0,height:y1-y0,fill:'none',stroke:'#000','stroke-width':3.5},g);
  
  

  p.tv.forEach((v,i)=>{
    const t=mk('text',{x:sx(v),y:y1+34,'font-size':30,'text-anchor':'middle'},g);
    t.textContent=p.tl[i];
    
    
  });
  yTickVals.forEach((v,i)=>{
    const t=mk('text',{x:x0-5,y:sy(v)+11,'font-size':30,'text-anchor':'end'},g);
    t.textContent=yTickLabels[i];
    
    
  });

  const yt=mk('text',{x:0,y:0,'font-size':47,'text-anchor':'end',transform:`translate(${x0-48},${y0+2}) rotate(-90)`},g);
  yt.textContent='2ΔNLL';
  
  

  const xt=mk('text',{x:x1,y:y1+78,'font-size':46,'text-anchor':'end'},g);
  
  
  let html='c<tspan dy="11" font-size="32">'+p.sub+'</tspan>';
  if(p.sup){html+='<tspan dy="-10" font-size="24">'+p.sup+'</tspan><tspan dy="-1">/Λ</tspan>';}
  else html+='<tspan dy="-11">/Λ</tspan>';
  html+='<tspan dy="-17" font-size="30">2</tspan><tspan dy="17"> [TeV</tspan><tspan dy="-17" font-size="30">−2</tspan><tspan dy="17">]</tspan>';
  xt.innerHTML=html;

  const cms=mk('text',{x:x0+2,y:y0-9,'font-size':38,'font-weight':'bold'},g);
  cms.textContent='CMS';
  
  
  const pre=mk('text',{x:x0+98,y:y0-9,'font-size':31,'font-style':'italic'},g);
  pre.textContent='Preliminary';
  
  
  const lumi=mk('text',{x:x1,y:y0-10,'font-size':30,'text-anchor':'end'},g);
  lumi.innerHTML='138 fb<tspan dy="-12" font-size="20">−1</tspan><tspan dy="12"> (13 TeV)</tspan>';
  
  
});
</script>
</body></html>
